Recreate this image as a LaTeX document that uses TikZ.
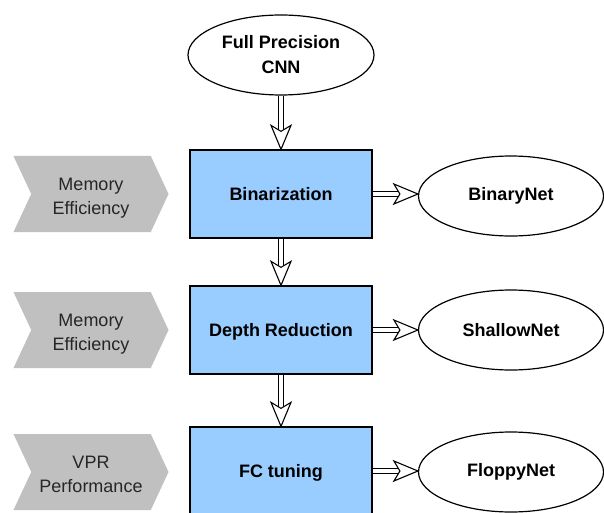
\documentclass[tikz,border=0pt]{standalone}
\usepackage{fontspec}
\setmainfont{Liberation Sans}
\usetikzlibrary{shapes.geometric,shapes.symbols}
\definecolor{boxblue}{HTML}{99CCFF}
\definecolor{chevgray}{HTML}{C0C0C0}
\definecolor{chevtext}{HTML}{262626}
\tikzset{
  x=1pt,y=-1pt,
  stepbox/.style={draw=black,line width=1.3pt,fill=boxblue,minimum width=182pt,minimum height=88pt,font=\fontsize{18}{21}\selectfont\bfseries,align=center,inner sep=0pt,text height=12pt,text depth=0pt},
  oval/.style={ellipse,draw=black,line width=1.2pt,fill=white,font=\fontsize{18}{25}\selectfont\bfseries,align=center,inner sep=0pt},
  chev/.style={signal,signal to=east,signal from=west,signal pointer angle=130,fill=chevgray,draw=none,minimum width=155pt,minimum height=76pt,font=\fontsize{18}{24}\selectfont,text=chevtext,align=center,inner sep=0pt,text height=44pt,text depth=4pt},
  shaft/.style={draw=black,line width=1.1pt,double=white,double distance=3.6pt,shorten >=17pt},
  headstyle/.style={draw=black,fill=white,line width=1.1pt,line join=miter},
  headdown/.pic={\path[headstyle] (0,0) -- (-10,-24) -- (0,-18) -- (10,-24) -- cycle;},
  headright/.pic={\path[headstyle] (0,0) -- (-24,-10) -- (-18,0) -- (-24,10) -- cycle;},
}
\begin{document}
\begin{tikzpicture}
\useasboundingbox (0,0) rectangle (604,513);
\clip (0,0) rectangle (604,513);
\fill[white] (0,0) rectangle (604,513);
\node[oval,minimum width=186pt,minimum height=80pt] (fp) at (281,55) {Full Precision\\CNN};
\node[stepbox] (b1) at (281,194) {Binarization};
\node[stepbox] (b2) at (281,330) {Depth Reduction};
\node[stepbox] (b3) at (281,471) {FC tuning};
\node[oval,minimum width=185pt,minimum height=80pt] (e1) at (511,196) {BinaryNet};
\node[oval,minimum width=185pt,minimum height=80pt] (e2) at (511,330) {ShallowNet};
\node[oval,minimum width=185pt,minimum height=80pt] (e3) at (511,472) {FloppyNet};
\node[chev] (c1) at (91,194) {Memory\\Efficiency};
\node[chev] (c2) at (91,330) {Memory\\Efficiency};
\node[chev] (c3) at (91,472) {VPR\\Performance};
\draw[shaft] (fp.south) -- (b1.north);
\draw[shaft] (b1.south) -- (b2.north);
\draw[shaft] (b2.south) -- (b3.north);
\draw[shaft] (b1.east) -- (e1.west |- b1.east);
\draw[shaft] (b2.east) -- (e2.west |- b2.east);
\draw[shaft] (b3.east) -- (e3.west |- b3.east);
\pic at (b1.north) {headdown};
\pic at (b2.north) {headdown};
\pic at (b3.north) {headdown};
\pic at (e1.west |- b1.east) {headright};
\pic at (e2.west |- b2.east) {headright};
\pic at (e3.west |- b3.east) {headright};
\end{tikzpicture}
\end{document}
